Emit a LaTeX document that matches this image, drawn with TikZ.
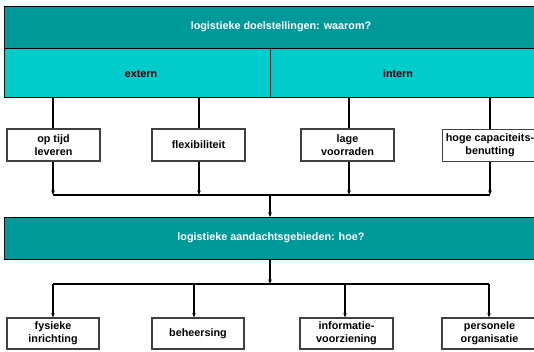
\documentclass[tikz,border=0pt]{standalone}
\usepackage{fontspec}
\setmainfont{Liberation Sans}
\usetikzlibrary{arrows.meta}
\definecolor{darkteal}{HTML}{009999}
\definecolor{lightteal}{HTML}{00CCCC}
\definecolor{boxline}{HTML}{404040}
\begin{document}
\begin{tikzpicture}[x=1pt,y=-1pt,
  lbl/.style={font=\bfseries\fontsize{10.8}{12.6}\selectfont},
  band/.style={draw=black, line width=1pt, inner sep=0pt, anchor=north west, minimum height=#1},
  item/.style={draw=boxline, line width=1.2pt, fill=white, minimum width=93pt, minimum height=32pt, inner sep=0pt, align=center, lbl},
  conn/.style={draw=black, line width=1.1pt},
  arr/.style={conn, -{Stealth[length=4.5pt,width=3.5pt]}}]
\useasboundingbox (0,0) rectangle (534,351);
\clip (0,0) rectangle (534,351);
% top bands
\node[band=42pt, fill=darkteal, minimum width=554pt] (goal) at (4,6) {};
\node[lbl, text=white] (goaltxt) at (281,27) {logistieke doelstellingen: waarom?};
\node[band=49pt, fill=lightteal, minimum width=266pt] (ext) at (4,48) {};
\node[band=49pt, fill=lightteal, minimum width=272pt] (int) at (270,48) {};
\node[lbl, text=black] (exttxt) at (141,74) {extern};
\node[lbl, text=black] (inttxt) at (398,74) {intern};
% goals
\node[item] (optijd) at (53.5,145) {op tijd\\leveren};
\node[item] (flex) at (198.5,145) {flexibiliteit};
\node[item] (lage) at (347.5,145) {lage\\voorraden};
\node[item, minimum width=95pt] (hoge) at (490,145.5) {hoge capaciteits-\\benutting};
\coordinate (t1) at (53,97.5);
\coordinate (t2) at (199,97.5);
\coordinate (t3) at (349,97.5);
\coordinate (t4) at (490,97.5);
\draw[conn] (t1) -- (t1 |- optijd.north);
\draw[conn] (t2) -- (t2 |- flex.north);
\draw[conn] (t3) -- (t3 |- lage.north);
\draw[conn] (t4) -- (t4 |- hoge.north);
\coordinate (jtop) at (270,195);
\coordinate (u1) at (53,195);
\coordinate (u2) at (199,195);
\coordinate (u3) at (349,195);
\coordinate (u4) at (490,195);
\draw[arr] (u1 |- optijd.south) -- (u1);
\draw[arr] (u2 |- flex.south) -- (u2);
\draw[arr] (u3 |- lage.south) -- (u3);
\draw[arr] (u4 |- hoge.south) -- (u4);
\draw[conn] (u1) -- (u4);
% how band
\node[band=42pt, fill=darkteal, minimum width=534pt] (how) at (4,217) {};
\node[lbl, text=white] (howtxt) at (271,238) {logistieke aandachtsgebieden: hoe?};
\draw[arr] (jtop) -- (jtop |- how.north);
\coordinate (jbot) at (270,284);
\draw[arr] (jbot |- how.south) -- (jbot);
\coordinate (b1) at (53,284);
\coordinate (b2) at (194,284);
\coordinate (b3) at (345,284);
\coordinate (b4) at (489,284);
\draw[conn] (b1) -- (b4);
% areas
\node[item, minimum width=92pt, minimum height=31pt] (fys) at (53,333.5) {fysieke\\inrichting};
\node[item, minimum width=92pt, minimum height=31pt] (beh) at (198,333.5) {beheersing};
\node[item, minimum width=93pt, minimum height=31pt] (inf) at (346.5,333.5) {informatie-\\voorziening};
\node[item, minimum width=95pt, minimum height=31pt] (pers) at (489.5,333.5) {personele\\organisatie};
\draw[arr] (b1) -- (b1 |- fys.north);
\draw[arr] (b2) -- (b2 |- beh.north);
\draw[arr] (b3) -- (b3 |- inf.north);
\draw[arr] (b4) -- (b4 |- pers.north);
\end{tikzpicture}
\end{document}
